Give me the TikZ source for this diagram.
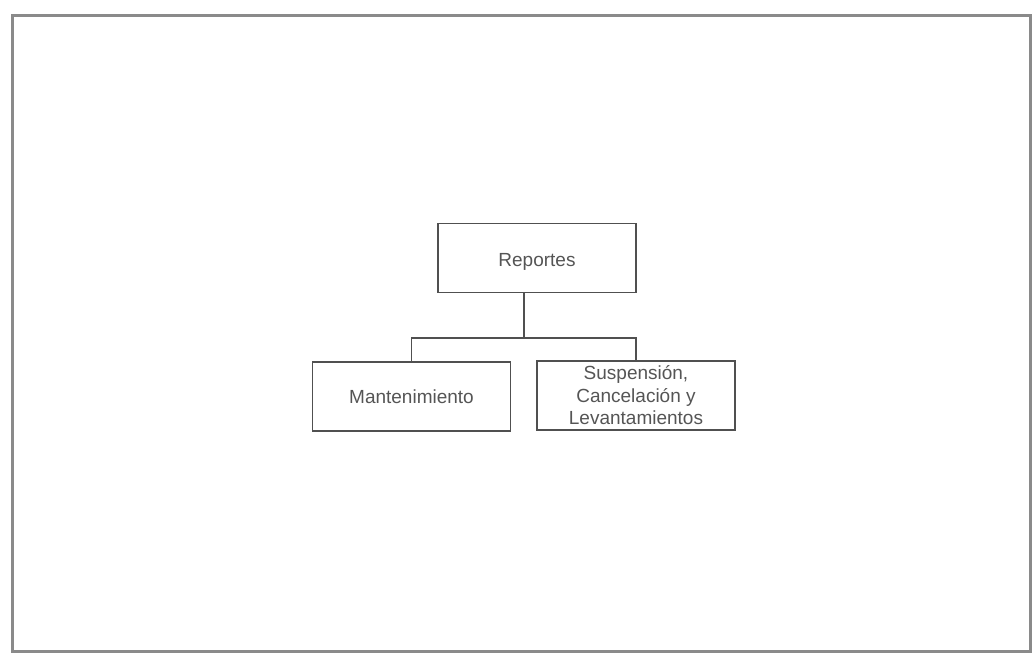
\documentclass[tikz,border=0pt]{standalone}
\usepackage{fontspec}
\setmainfont{Liberation Sans}
\definecolor{boxline}{HTML}{505050}
\definecolor{frameline}{HTML}{8A8A8A}
\definecolor{txt}{HTML}{555555}
\begin{document}
\begin{tikzpicture}[x=1pt,y=-1pt,
  orgbox/.style={draw=boxline,line width=1.8pt,rectangle,minimum width=198pt,minimum height=69pt,
    inner sep=0pt,align=center,text=txt,font=\fontsize{19}{22.5}\selectfont},
  conn/.style={draw=boxline,line width=1.8pt}]
\useasboundingbox (0,0) rectangle (1034,654);
\fill[white] (0,0) rectangle (1034,654);
\draw[frameline,line width=3pt] (12,15) rectangle (1030,651);
\node[orgbox,text height=21pt,text depth=4pt] (rep) at (537,258) {Reportes};
\node[orgbox] (man) at (411.5,396.5) {Mantenimiento};
\node[orgbox] (sus) at (636,395.5) {Suspensión,\\Cancelación y\\Levantamientos};
\coordinate (mid) at (524,338);
\draw[conn] (rep.south -| mid) -- (mid);
\draw[conn] (man.north) -- (man.north |- mid) -- (sus.north |- mid) -- (sus.north);
\end{tikzpicture}
\end{document}
